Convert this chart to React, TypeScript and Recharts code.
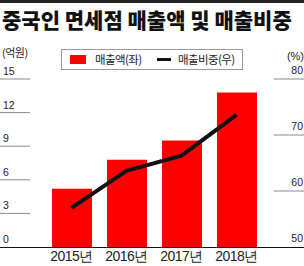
import React from 'react';
import { ComposedChart, Bar, Line, XAxis, YAxis } from 'recharts';

const years = ['2015년', '2016년', '2017년', '2018년'];
const salesEok = [5.2, 7.8, 9.5, 13.8];
const sharePct = [57.0, 63.6, 66.3, 73.6];
const leftTicks = [0, 3, 6, 9, 12, 15];
const rightTicks = [50, 60, 70, 80];

const data = years.map((year, i) => ({ year, sales: salesEok[i], share: sharePct[i] }));

const NARROW = "'Liberation Sans Narrow', 'Arial Narrow', 'Liberation Sans', sans-serif";
const KR = "'Noto Sans CJK KR', sans-serif";

const LeftTick = ({ y, payload }: any) => (
  <g>
    <text x={3} y={y - 4} fontSize={10.5} fontFamily={NARROW} fill="#222">
      {payload.value}
    </text>
    {payload.value !== 0 && <line x1={0} x2={30} y1={y} y2={y} stroke="#8a8a8a" strokeWidth={1} />}
  </g>
);

const RightTick = ({ y, payload }: any) => (
  <g>
    <text x={303} y={y - 5} fontSize={10.5} fontFamily={NARROW} fill="#222" textAnchor="end">
      {payload.value}
    </text>
    {payload.value !== 50 && <line x1={274} x2={304} y1={y} y2={y} stroke="#8a8a8a" strokeWidth={1} />}
  </g>
);

const YearTick = ({ x, payload }: any) => (
  <text x={x} y={261} fontSize={14} fontFamily={NARROW} fill="#222" textAnchor="middle" letterSpacing={-0.5}>
    {payload.value}
  </text>
);

export default function App() {
  return (
    <div style={{ position: 'absolute', left: 0, top: 0, width: 304, height: 266, background: '#fff' }}>
      <ComposedChart width={304} height={266} data={data} margin={{ top: 79, right: 0, bottom: 0, left: 0 }}>
        <XAxis dataKey="year" height={19} axisLine={false} tickLine={false} tick={<YearTick />} interval={0} />
        <YAxis yAxisId="left" width={44} domain={[0, 15]} ticks={leftTicks} axisLine={false} tickLine={false} tick={<LeftTick />} />
        <YAxis yAxisId="right" orientation="right" width={40} domain={[50, 80]} ticks={rightTicks} axisLine={false} tickLine={false} tick={<RightTick />} />
        <Bar yAxisId="left" dataKey="sales" fill="#ff0000" barSize={40} isAnimationActive={false} />
        <Line yAxisId="right" dataKey="share" type="linear" stroke="#111" strokeWidth={4} dot={false} isAnimationActive={false} />
      </ComposedChart>
      <svg width={304} height={266} style={{ position: 'absolute', left: 0, top: 0, pointerEvents: 'none' }}>
        <rect x={0} y={0} width={304} height={3} fill="#222" />
        <text x={2} y={28} fontSize={21} fontWeight={900} fontFamily={KR} fill="#111">
          중국인 면세점 매출액 및 매출비중
        </text>
        <text x={2} y={57} fontSize={11} fontFamily={KR} fill="#222" letterSpacing={-0.5}>(억원)</text>
        <text x={304} y={60} fontSize={11} fontFamily={NARROW} fill="#222" textAnchor="end">(%)</text>
        <rect x={61.5} y={49.5} width={181} height={20} fill="#fff" stroke="#999" strokeWidth={1} />
        <rect x={70} y={55} width={16} height={9} fill="#ff0000" />
        <text x={95} y={64} fontSize={11.5} fontFamily={KR} fill="#222" letterSpacing={-0.6}>매출액(좌)</text>
        <line x1={157} x2={171} y1={59.5} y2={59.5} stroke="#111" strokeWidth={3} />
        <text x={178} y={64} fontSize={11.5} fontFamily={KR} fill="#222" letterSpacing={-0.6}>매출비중(우)</text>
        <line x1={0} x2={304} y1={247.5} y2={247.5} stroke="#111" strokeWidth={1.2} />
      </svg>
    </div>
  );
}
